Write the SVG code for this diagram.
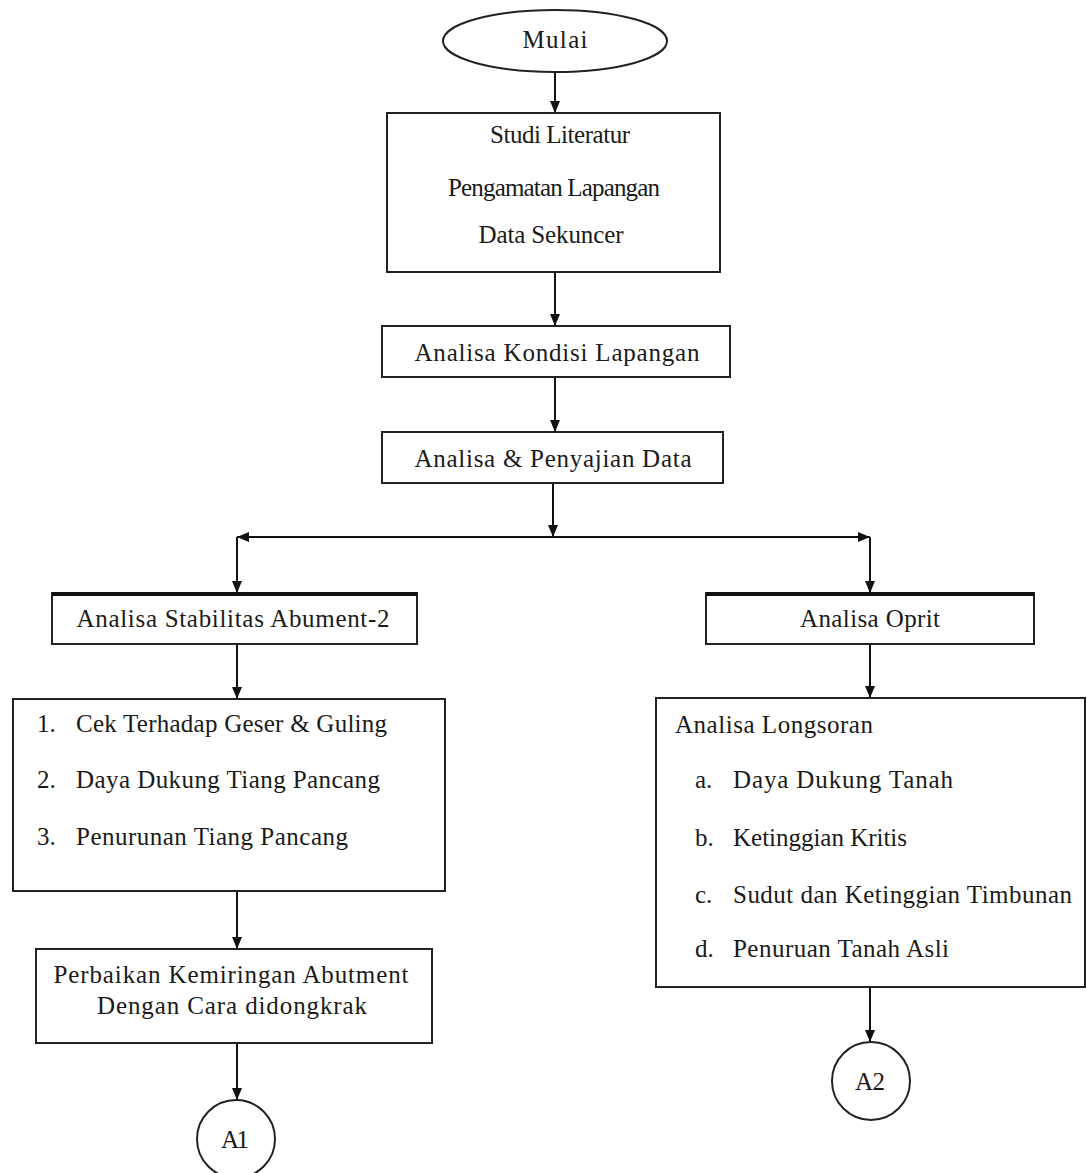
<svg xmlns="http://www.w3.org/2000/svg" width="1087" height="1173" viewBox="0 0 1087 1173">
<defs>
<marker id="arr" viewBox="0 0 12 10" refX="12" refY="5" markerWidth="12" markerHeight="10" markerUnits="userSpaceOnUse" orient="auto">
<path d="M0,0 L12,5 L0,10 z" fill="#111"/>
</marker>
</defs>
<style>
.box{fill:#fff;stroke:#222;stroke-width:2}
.thick{stroke:#111;stroke-width:4}
.t{font-family:"Liberation Serif","Times New Roman",serif;font-size:25px;fill:#1a1a1a}
.c{text-anchor:middle}
.ln{fill:none;stroke:#111;stroke-width:2;marker-end:url(#arr)}
</style>
<rect width="1087" height="1173" fill="#fff"/>

<g id="connectors">
<path class="ln" d="M555,72 V113"/>
<path class="ln" d="M555,272 V326"/>
<path class="ln" d="M555,377 V432"/>
<path class="ln" d="M553,483 V537"/>
<path class="ln" d="M553,537 H237"/>
<path class="ln" d="M553,537 H870"/>
<path class="ln" d="M237,537 V593"/>
<path class="ln" d="M870,537 V593"/>
<path class="ln" d="M237,644 V699"/>
<path class="ln" d="M870,644 V698"/>
<path class="ln" d="M237,891 V949"/>
<path class="ln" d="M870,987 V1042"/>
<path class="ln" d="M237,1043 V1100"/>
</g>

<g id="mulai">
<ellipse class="box" cx="555" cy="41" rx="112" ry="31"/>
<text class="t c" x="555" y="48" textLength="65">Mulai</text>
</g>

<g id="studi">
<rect class="box" x="387" y="113" width="333" height="159"/>
<text class="t c" x="560" y="143" textLength="140">Studi Literatur</text>
<text class="t c" x="554" y="196" textLength="212">Pengamatan Lapangan</text>
<text class="t c" x="551" y="243" textLength="145">Data Sekuncer</text>
</g>

<g id="kondisi">
<rect class="box" x="382" y="326" width="348" height="51"/>
<text class="t c" x="557" y="361" textLength="285">Analisa Kondisi Lapangan</text>
</g>

<g id="penyajian">
<rect class="box" x="382" y="432" width="341" height="51"/>
<text class="t c" x="553" y="467" textLength="277">Analisa &amp; Penyajian Data</text>
</g>

<g id="stabilitas">
<rect class="box" x="52" y="593" width="365" height="51"/>
<line class="thick" x1="52" y1="594" x2="417" y2="594"/>
<text class="t c" x="233" y="627" textLength="313">Analisa Stabilitas Abument-2</text>
</g>

<g id="cek">
<rect class="box" x="13" y="699" width="432" height="192"/>
<text class="t" x="37" y="732">1.</text>
<text class="t" x="76" y="732" textLength="311">Cek Terhadap Geser &amp; Guling</text>
<text class="t" x="37" y="788">2.</text>
<text class="t" x="76" y="788" textLength="304">Daya Dukung Tiang Pancang</text>
<text class="t" x="37" y="845">3.</text>
<text class="t" x="76" y="845" textLength="272">Penurunan Tiang Pancang</text>
</g>

<g id="perbaikan">
<rect class="box" x="36" y="949" width="396" height="94"/>
<text class="t c" x="231" y="983" textLength="355">Perbaikan Kemiringan Abutment</text>
<text class="t c" x="232" y="1014" textLength="270">Dengan Cara didongkrak</text>
</g>

<g id="a1">
<circle class="box" cx="236" cy="1139" r="39"/>
<text class="t c" x="235" y="1148" textLength="28">A1</text>
</g>

<g id="oprit">
<rect class="box" x="706" y="593" width="328" height="51"/>
<line class="thick" x1="706" y1="594" x2="1034" y2="594"/>
<text class="t c" x="870" y="627" textLength="140">Analisa Oprit</text>
</g>

<g id="longsoran">
<rect class="box" x="656" y="698" width="429" height="289"/>
<text class="t" x="675" y="733" textLength="198">Analisa Longsoran</text>
<text class="t" x="695" y="788">a.</text>
<text class="t" x="733" y="788" textLength="220">Daya Dukung Tanah</text>
<text class="t" x="695" y="846">b.</text>
<text class="t" x="733" y="846" textLength="174">Ketinggian Kritis</text>
<text class="t" x="695" y="903">c.</text>
<text class="t" x="733" y="903" textLength="339">Sudut dan Ketinggian Timbunan</text>
<text class="t" x="695" y="957">d.</text>
<text class="t" x="733" y="957" textLength="216">Penuruan Tanah Asli</text>
</g>

<g id="a2">
<circle class="box" cx="871" cy="1081" r="39"/>
<text class="t c" x="870" y="1090" textLength="30">A2</text>
</g>
</svg>
